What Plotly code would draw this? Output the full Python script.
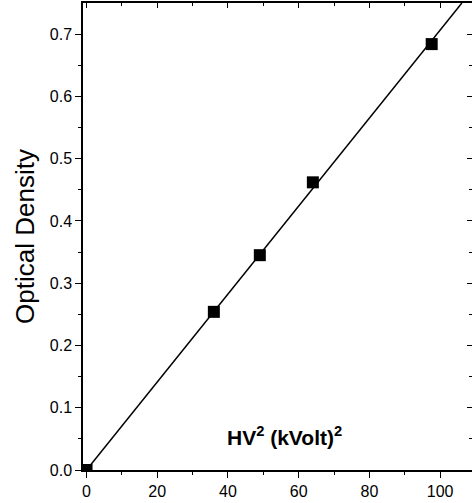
import plotly.graph_objects as go
import numpy as np

hv2 = [0, 36, 49, 64, 97.6]
od = [0.0, 0.254, 0.345, 0.462, 0.684]

x_ticks = [0, 20, 40, 60, 80, 100]
y_ticks = [0.0, 0.1, 0.2, 0.3, 0.4, 0.5, 0.6, 0.7]
x_minor = [10, 30, 50, 70, 90]
y_minor = [0.05, 0.15, 0.25, 0.35, 0.45, 0.55, 0.65]

xa = np.array(hv2)
ya = np.array(od)
slope = float((xa * ya).sum() / (xa * xa).sum())
x_fit = [0, 0.75 / slope]
y_fit = [slope * v for v in x_fit]

FAM = "Liberation Sans, Arial, sans-serif"
font = dict(family=FAM, size=16, color="black")

fig = go.Figure()
fig.add_trace(go.Scatter(x=x_fit, y=y_fit, mode="lines",
                         line=dict(color="black", width=1.5), showlegend=False))
fig.add_trace(go.Scatter(x=hv2, y=od, mode="markers",
                         marker=dict(symbol="square", size=12, color="black"),
                         showlegend=False, cliponaxis=True))
fig.add_trace(go.Scatter(x=[None], y=[None], xaxis="x2", yaxis="y2", showlegend=False))

fig.update_layout(
    width=472, height=503,
    margin=dict(l=83, r=0, t=3, b=33, autoexpand=False),
    plot_bgcolor="white", paper_bgcolor="white",
    font=font,
    xaxis=dict(range=[-1, 109], tickvals=x_ticks, ticktext=[str(v) for v in x_ticks],
               showgrid=False, zeroline=False, showline=True, linecolor="black", linewidth=1.5,
               ticks="outside", ticklen=6, tickwidth=1.2, tickcolor="black",
               minor=dict(tickvals=x_minor, ticks="outside", ticklen=3, tickcolor="black"),
               tickfont=font, automargin=False),
    yaxis=dict(range=[0, 0.75], tickvals=y_ticks, ticktext=[f"{v:.1f}" for v in y_ticks],
               showgrid=False, zeroline=False, showline=True, linecolor="black", linewidth=1.5,
               ticks="outside", ticklen=6, tickwidth=1.2, tickcolor="black",
               minor=dict(tickvals=y_minor, ticks="outside", ticklen=3, tickcolor="black"),
               tickfont=font, automargin=False,
               title=dict(text="Optical Density", font=dict(family=FAM, size=26, color="black"), standoff=8)),
    xaxis2=dict(range=[-1, 109], overlaying="x", side="top", tickvals=x_ticks,
                showticklabels=False, showgrid=False, zeroline=False, showline=True,
                linecolor="black", linewidth=1.5, ticks="inside", ticklen=5, tickcolor="black",
                minor=dict(tickvals=x_minor, ticks="inside", ticklen=3, tickcolor="black")),
    yaxis2=dict(range=[0, 0.75], overlaying="y", side="right", tickvals=y_ticks,
                showticklabels=False, showgrid=False, zeroline=False, showline=False,
                ticks="inside", ticklen=5, tickcolor="black",
                minor=dict(tickvals=y_minor, ticks="inside", ticklen=3, tickcolor="black")),
    annotations=[dict(text="<b>HV<sup>2</sup> (kVolt)<sup>2</sup></b>", x=56, y=0.055,
                      xref="x", yref="y", showarrow=False,
                      font=dict(family=FAM, size=21, color="black"))],
)

fig.write_html("out.html", config={"displayModeBar": False},
               post_script="document.body.style.margin='0';document.body.style.overflow='hidden';")
